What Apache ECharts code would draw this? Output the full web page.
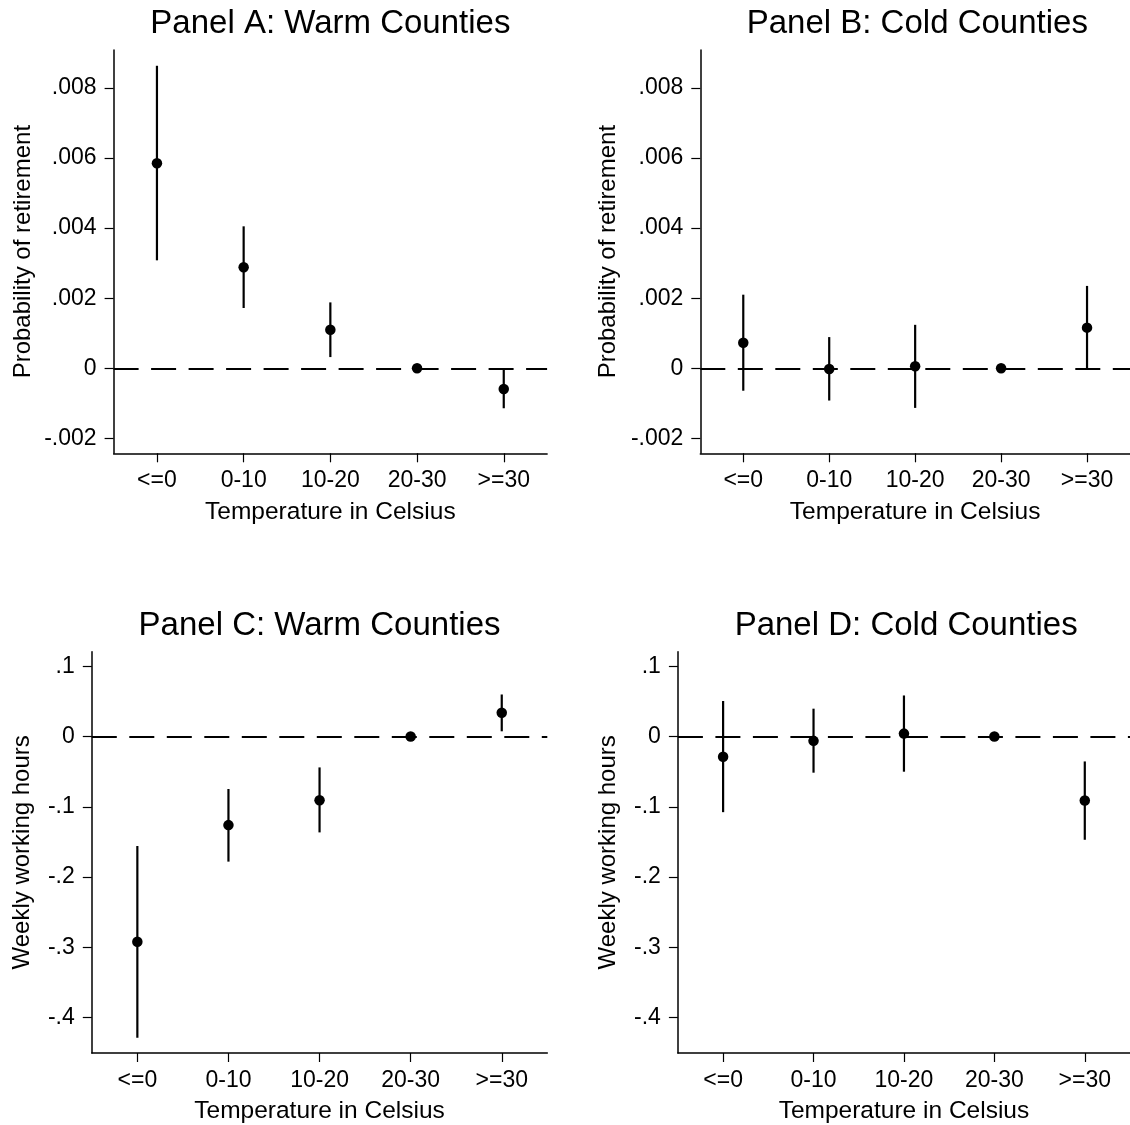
<!DOCTYPE html>
<html>
<head>
<meta charset="utf-8">
<script src="https://cdn.jsdelivr.net/npm/echarts@6/dist/echarts.min.js"></script>
<style>html,body{margin:0;padding:0;background:#fff}#c{width:1130px;height:1125px}</style>
</head>
<body>
<div id="c"></div>
<script>
const categories = ['<=0', '0-10', '10-20', '20-30', '>=30'];

const A_est = [0.00585, 0.00288, 0.00110, 0, -0.00059];
const A_lo  = [0.00308, 0.00172, 0.00032, 0, -0.00114];
const A_hi  = [0.00863, 0.00405, 0.00188, 0, 0.00000];

const B_est = [0.00073, -0.00002, 0.00006, 0, 0.00116];
const B_lo  = [-0.00064, -0.00092, -0.00113, 0, -0.00002];
const B_hi  = [0.00210, 0.00089, 0.00124, 0, 0.00235];

const C_est = [-0.292, -0.126, -0.0907, 0, 0.034];
const C_lo  = [-0.4287, -0.178, -0.1364, 0, 0.0075];
const C_hi  = [-0.1558, -0.0746, -0.0439, 0, 0.0599];

const D_est = [-0.0288, -0.0061, 0.0042, 0, -0.091];
const D_lo  = [-0.1076, -0.0514, -0.0500, 0, -0.1469];
const D_hi  = [0.0506, 0.0397, 0.0585, 0, -0.0354];

const retTicks = [-0.002, 0, 0.002, 0.004, 0.006, 0.008];
const retTickLabels = ['-.002', '0', '.002', '.004', '.006', '.008'];
const hrsTicks = [-0.4, -0.3, -0.2, -0.1, 0, 0.1];
const hrsTickLabels = ['-.4', '-.3', '-.2', '-.1', '0', '.1'];

const titles = ['Panel A: Warm Counties', 'Panel B: Cold Counties', 'Panel C: Warm Counties', 'Panel D: Cold Counties'];
const yNames = ['Probability of retirement', 'Probability of retirement', 'Weekly working hours', 'Weekly working hours'];
const xName = 'Temperature in Celsius';

const FONT = "'Liberation Sans', Arial, Helvetica, sans-serif";

const panels = [
  {est: A_est, lo: A_lo, hi: A_hi, ticks: retTicks, labels: retTickLabels, min: -0.002425, max: 0.00908,
   grid: {left: 113.6, top: 50, width: 433.5, height: 403.3}, nameGap: 78},
  {est: B_est, lo: B_lo, hi: B_hi, ticks: retTicks, labels: retTickLabels, min: -0.002425, max: 0.00908,
   grid: {left: 700.3, top: 50, width: 434, height: 403.3}, nameGap: 80},
  {est: C_est, lo: C_lo, hi: C_hi, ticks: hrsTicks, labels: hrsTickLabels, min: -0.4504, max: 0.1208,
   grid: {left: 91.8, top: 651.7, width: 455.5, height: 403.3}, nameGap: 57},
  {est: D_est, lo: D_lo, hi: D_hi, ticks: hrsTicks, labels: hrsTickLabels, min: -0.4504, max: 0.1208,
   grid: {left: 677.9, top: 651.7, width: 456.5, height: 403.3}, nameGap: 58}
];

const grids = [], xAxes = [], yAxes = [], series = [], graphics = [];

panels.forEach((p, k) => {
  grids.push(Object.assign({containLabel: false}, p.grid));
  xAxes.push({
    type: 'category', gridIndex: k, data: categories, boundaryGap: true,
    name: xName, nameLocation: 'middle', nameGap: 46,
    nameTextStyle: {fontSize: 24.5, color: '#000', fontFamily: FONT},
    axisLine: {show: true, onZero: false, lineStyle: {color: '#000', width: 1.5}},
    axisTick: {show: true, alignWithLabel: true, length: 9, lineStyle: {color: '#000', width: 1.2}},
    axisLabel: {fontSize: 23, color: '#000', fontFamily: FONT, margin: 16, interval: 0},
    splitLine: {show: false}
  });
  const labs = p.labels, tks = p.ticks;
  yAxes.push({
    type: 'value', gridIndex: k, min: p.min, max: p.max,
    name: yNames[k], nameLocation: 'middle', nameGap: p.nameGap,
    nameTextStyle: {fontSize: 24, color: '#000', fontFamily: FONT},
    axisLine: {show: true, onZero: false, lineStyle: {color: '#000', width: 1.5}},
    axisTick: {show: true, length: 9, customValues: tks, lineStyle: {color: '#000', width: 1.2}},
    axisLabel: {
      fontSize: 23, color: '#000', fontFamily: FONT, margin: 17, customValues: tks,
      formatter: function (v) {
        let best = 0, bd = Infinity;
        tks.forEach((t, i) => { const d = Math.abs(t - v); if (d < bd) { bd = d; best = i; } });
        return labs[best];
      }
    },
    splitLine: {show: false}
  });
  series.push({
    type: 'custom', xAxisIndex: k, yAxisIndex: k, z: 3,
    data: categories.map((c, i) => [i, p.lo[i], p.hi[i]]),
    renderItem: function (params, api) {
      const x = api.value(0);
      const a = api.coord([x, api.value(1)]);
      const b = api.coord([x, api.value(2)]);
      return {type: 'line', shape: {x1: a[0], y1: a[1], x2: b[0], y2: b[1]},
              style: {stroke: '#000', lineWidth: 2.2}};
    },
    markLine: {
      silent: true, symbol: ['none', 'none'], animation: false, z: 1,
      label: {show: false},
      lineStyle: {type: [25, 12.5], color: '#000', width: 2, opacity: 1},
      emphasis: {disabled: true},
      data: [{yAxis: 0}]
    }
  });
  series.push({
    type: 'scatter', xAxisIndex: k, yAxisIndex: k, z: 4,
    symbol: 'circle', symbolSize: 10.5,
    itemStyle: {color: '#000', opacity: 1},
    data: categories.map((c, i) => [i, p.est[i]])
  });
  graphics.push({
    type: 'text', x: p.grid.left + p.grid.width / 2, y: p.grid.top - 26,
    style: {text: titles[k], fontSize: 33, fill: '#000', fontFamily: FONT, textAlign: 'center', textVerticalAlign: 'middle'}
  });
});

const chart = echarts.init(document.getElementById('c'), null, {renderer: 'canvas'});
chart.setOption({
  backgroundColor: '#fff',
  animation: false,
  grid: grids, xAxis: xAxes, yAxis: yAxes, series: series, graphic: graphics
});
</script>
</body>
</html>
